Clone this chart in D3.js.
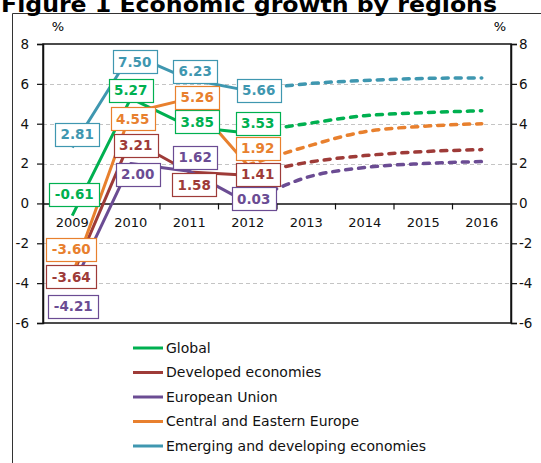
<!DOCTYPE html>
<html>
<head>
<meta charset="utf-8">
<script src="https://cdn.jsdelivr.net/npm/d3@7"></script>
<style>
  html, body { margin: 0; padding: 0; background: #fff; }
  svg { display: block; }
  text { font-family: "DejaVu Sans", Verdana, sans-serif; }
</style>
</head>
<body>
<svg id="chart" width="541" height="463"></svg>
<script>
// ---------- data ----------
const title = "Figure 1 Economic growth by regions";
const years = ["2009", "2010", "2011", "2012", "2013", "2014", "2015", "2016"];
const histYears = ["2009", "2010", "2011", "2012"];
const foreYears = ["2012", "2013", "2014", "2015", "2016"];
const yTicks = [-6, -4, -2, 0, 2, 4, 6, 8];

const seriesNames = ["Global", "Developed economies", "European Union", "Central and Eastern Europe", "Emerging and developing economies"];

const globalHist    = [-0.61, 5.27, 3.85, 3.53];
const developedHist = [-3.64, 3.21, 1.58, 1.41];
const euHist        = [-4.21, 2.00, 1.62, 0.03];
const ceeHist       = [-3.60, 4.55, 5.26, 1.92];
const emergingHist  = [2.81, 7.50, 6.23, 5.66];

const globalFore    = [3.53, 4.00, 4.40, 4.55, 4.65];
const developedFore = [1.41, 2.05, 2.40, 2.60, 2.70];
const euFore        = [0.03, 1.30, 1.80, 2.00, 2.10];
const ceeFore       = [1.92, 2.85, 3.60, 3.87, 4.00];
const emergingFore  = [5.66, 6.00, 6.17, 6.27, 6.30];

// ---------- styles / label placement (pixel offsets from the point) ----------
const colors = ["#00B050", "#9E3B38", "#6B4C93", "#E8802E", "#3F97B0"];
const labelOffsets = [
  [[2, -21], [0, -8], [8, -5], [10, -10]],
  [[-1, 1], [5, 6], [5, 13], [10, -1]],
  [[1, 19], [7, 11], [6, -14], [6, -4]],
  [[-1, -26], [2, 6], [8, -1], [10, -17]],
  [[5, -13], [4, 8], [6, -8], [11, 0]]
];

const hist = [globalHist, developedHist, euHist, ceeHist, emergingHist];
const fore = [globalFore, developedFore, euFore, ceeFore, emergingFore];

// ---------- layout ----------
const svg = d3.select("#chart");
const pLeft = 43, pRight = 511, pTop = 44, pBottom = 323;

const x = d3.scaleBand().domain(years).range([pLeft, pRight]).padding(0);
const cx = d => x(d) + x.bandwidth() / 2;
const y = d3.scaleLinear().domain([-6, 8]).range([pBottom, pTop]);

// outer frame
svg.append("path")
  .attr("d", `M12.5,463 L12.5,13.5 L541,13.5`)
  .attr("fill", "none").attr("stroke", "#333").attr("stroke-width", 1);

// title
svg.append("text")
  .attr("x", 1).attr("y", 12)
  .attr("font-size", 21).attr("font-weight", "bold")
  .attr("textLength", 496).attr("lengthAdjust", "spacingAndGlyphs")
  .text(title);

// gridlines
svg.append("g").selectAll("line")
  .data(yTicks.filter(t => t !== 0 && t !== 8 && t !== -6))
  .join("line")
  .attr("x1", pLeft).attr("x2", pRight)
  .attr("y1", d => Math.round(y(d)) + 0.5).attr("y2", d => Math.round(y(d)) + 0.5)
  .attr("stroke", "#c4c4c4").attr("stroke-dasharray", "4,3").attr("stroke-width", 1);

// plot frame
svg.append("rect")
  .attr("x", pLeft).attr("y", pTop).attr("width", pRight - pLeft).attr("height", pBottom - pTop)
  .attr("fill", "none").attr("stroke", "#111").attr("stroke-width", 1.5);

// left axis
const fmt = d => String(d);
const yAxisL = d3.axisLeft(y).tickValues(yTicks).tickSize(6).tickPadding(8).tickFormat(fmt);
const gL = svg.append("g").attr("transform", `translate(${pLeft},0)`).call(yAxisL);
// right axis
const yAxisR = d3.axisRight(y).tickValues(yTicks).tickSize(6).tickPadding(2).tickFormat(fmt);
const gR = svg.append("g").attr("transform", `translate(${pRight},0)`).call(yAxisR);
[gL, gR].forEach(g => {
  g.select(".domain").attr("stroke", "#111").attr("stroke-width", 1.5);
  g.selectAll(".tick line").attr("stroke", "#111").attr("stroke-width", 1.2);
  g.selectAll(".tick text").attr("font-size", 13.5).attr("fill", "#111")
    .style("font-family", '"DejaVu Sans", Verdana, sans-serif');
});

// x axis at zero
const xAxis = d3.axisBottom(x).tickSize(0).tickPadding(14);
const gX = svg.append("g").attr("transform", `translate(0,${y(0)})`).call(xAxis);
gX.select(".domain").attr("stroke", "#111").attr("stroke-width", 1.5);
gX.selectAll(".tick text").attr("font-size", 13).attr("fill", "#111")
  .style("font-family", '"DejaVu Sans", Verdana, sans-serif');
// category boundary ticks
svg.append("g").selectAll("line")
  .data(years.slice(1))
  .join("line")
  .attr("x1", d => x(d)).attr("x2", d => x(d))
  .attr("y1", y(0)).attr("y2", y(0) + 6)
  .attr("stroke", "#111").attr("stroke-width", 1.2);

// % labels
svg.append("text").attr("x", 58).attr("y", 31).attr("text-anchor", "middle")
  .attr("font-size", 13).text("%");
svg.append("text").attr("x", 500).attr("y", 31).attr("text-anchor", "middle")
  .attr("font-size", 13).text("%");

// lines
const lineH = d3.line().x(d => cx(d.year)).y(d => y(d.v));
const lineF = d3.line().x(d => cx(d.year)).y(d => y(d.v)).curve(d3.curveMonotoneX);

const order = [0, 1, 2, 3, 4];
order.forEach(i => {
  const hd = histYears.map((yr, j) => ({ year: yr, v: hist[i][j] }));
  const fd = foreYears.map((yr, j) => ({ year: yr, v: fore[i][j] }));
  svg.append("path").datum(fd).attr("d", lineF)
    .attr("fill", "none").attr("stroke", colors[i]).attr("stroke-width", 3.5)
    .attr("stroke-linecap", "round").attr("stroke-dasharray", "6,7");
  svg.append("path").datum(hd).attr("d", lineH)
    .attr("fill", "none").attr("stroke", colors[i]).attr("stroke-width", 3)
    .attr("stroke-linejoin", "round");
});

// data labels
order.forEach(i => {
  histYears.forEach((yr, j) => {
    const v = hist[i][j];
    const px = cx(yr) + labelOffsets[i][j][0];
    const py = y(v) + labelOffsets[i][j][1];
    const g = svg.append("g");
    const rect = g.append("rect");
    const t = g.append("text")
      .attr("x", px).attr("y", py).attr("dy", "0.36em")
      .attr("text-anchor", "middle")
      .attr("font-size", 13.5).attr("font-weight", "bold")
      .attr("fill", colors[i])
      .text(v.toFixed(2));
    const w = t.node().getComputedTextLength() + 11;
    const h = 23;
    rect.attr("x", Math.round(px - w / 2) + 0.5).attr("y", Math.round(py - h / 2) + 0.5)
      .attr("width", Math.round(w)).attr("height", h)
      .attr("fill", "#fff").attr("stroke", colors[i]).attr("stroke-width", 1.2);
  });
});

// legend
const legend = svg.append("g");
seriesNames.forEach((name, i) => {
  const ly = 348 + i * 24.5;
  legend.append("line").attr("x1", 133).attr("x2", 163).attr("y1", ly).attr("y2", ly)
    .attr("stroke", colors[i]).attr("stroke-width", 3);
  legend.append("text").attr("x", 166).attr("y", ly).attr("dy", "0.35em")
    .attr("font-size", 14).attr("fill", "#111").text(name);
});
</script>
</body>
</html>
